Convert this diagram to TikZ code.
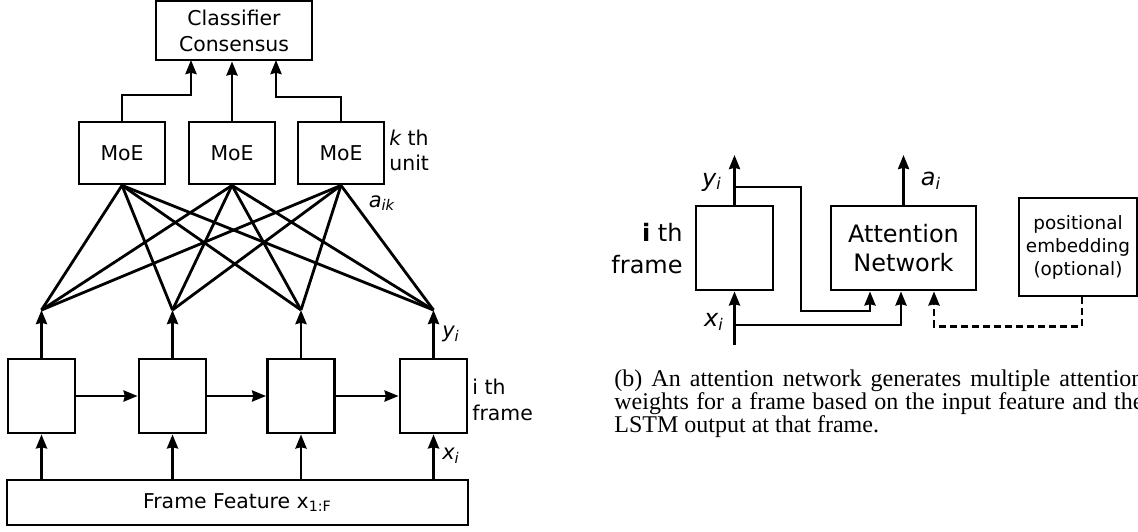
\documentclass[tikz,border=0pt]{standalone}
\usepackage{fontspec}
\setmainfont{Liberation Serif}
\newfontfamily\dv{DejaVu Sans}
\usetikzlibrary{arrows.meta}
\begin{document}
\begin{tikzpicture}[x=0.5pt,y=-0.5pt,
  box/.style={draw, line width=1.4pt, inner sep=0pt, align=center,
    font=\dv\fontsize{10.2}{13}\selectfont},
  conn/.style={line width=1.4pt},
  arr/.style={conn, -{Stealth[length=7pt,width=5.5pt,inset=0.6pt]}},
  lbl/.style={inner sep=0pt, font=\dv\fontsize{10.5}{13}\selectfont},
  rlbl/.style={inner sep=0pt, font=\dv\fontsize{12}{16}\selectfont},
  captxt/.style={anchor=base west, inner sep=0pt, font=\fontsize{12}{12}\selectfont},
]
\useasboundingbox (0,0) rectangle (1138,531);
\clip (0,0) rectangle (1138,531);

% ---------- left panel ----------
\node[box, minimum width=78pt, minimum height=29.6pt] (cls) at (234,30.4) {Classifier\\Consensus};
\node[box, minimum width=43pt, minimum height=31pt] (m1) at (122,153) {MoE};
\node[box, minimum width=43pt, minimum height=31pt] (m2) at (232,153) {MoE};
\node[box, minimum width=43pt, minimum height=31pt] (m3) at (341,153) {MoE};

\foreach \i/\x in {1/41.5,2/172.5,3/301,4/433.5}{
  \node[box, minimum width=33.5pt, minimum height=37pt] (l\i) at (\x,396) {};
  \coordinate (f\i) at (\x,310);
}
\node[box, minimum width=230.5pt, minimum height=22.5pt] (ff) at (237.5,502.5) {Frame Feature x\textsubscript{1:F}};

\coordinate (c1) at (191,60);
\coordinate (c3) at (276,60);
\draw[arr] (m1.north) |- (c1 |- 0,95) -- (c1);
\draw[arr] (m2.north) -- (m2.north |- cls.south);
\draw[arr] (m3.north) |- (c3 |- 0,97) -- (c3);

\foreach \i in {1,2,3,4}{
  \draw[arr] (l\i.north) -- (f\i);
  \draw[arr] (l\i |- ff.north) -- (l\i.south);
  \foreach \m in {1,2,3}{
    \draw[conn] (f\i) -- (m\m.south);
  }
}
\draw[arr] (l1.east) -- (l2.west);
\draw[arr] (l2.east) -- (l3.west);
\draw[arr] (l3.east) -- (l4.west);

\node[lbl, anchor=west, align=left, font=\dv\fontsize{10.2}{12.5}\selectfont] (kth) at (389,150.5) {{\itshape k} th\\unit};
\node[lbl] (aik) at (382,203) {\itshape a\textsubscript{ik}};
\node[lbl] (yl) at (451,334) {\itshape y\textsubscript{i}};
\node[lbl] (xl) at (451,456) {\itshape x\textsubscript{i}};
\node[lbl, anchor=west, align=left, font=\dv\fontsize{10.2}{13}\selectfont] (ithl) at (472,400) {i th\\frame};

% ---------- right panel ----------
\node[box, minimum width=38.5pt, minimum height=42pt] (rl) at (734.5,248) {};
\node[box, minimum width=72.5pt, minimum height=42pt, font=\dv\fontsize{12}{14.5}\selectfont] (att) at (903.5,248) {Attention\\Network};
\node[box, minimum width=59pt, minimum height=49pt, font=\dv\fontsize{9.2}{11.5}\selectfont] (pos) at (1078,247) {positional\\embedding\\(optional)};

\node[rlbl, anchor=east, align=right] (ithr) at (683,249) {{\bfseries i} th\\frame};
\node[rlbl] (yr) at (712,182) {\itshape y\textsubscript{i}};
\node[rlbl] (xr) at (714,322) {\itshape x\textsubscript{i}};
\node[rlbl] (ai) at (931,181) {\itshape a\textsubscript{i}};

\coordinate (ytop) at (734.5,155);
\coordinate (atop) at (903.5,155);
\coordinate (yb) at (734.5,187);
\coordinate (xbot) at (734.5,345);
\coordinate (xb) at (734.5,325);

\draw[arr] (rl.north) -- (ytop);
\draw[arr] (att.north) -- (atop);
\draw[arr] (yb) -| ++(66.5,124) -| ([xshift=-16.75pt]att.south);
\draw[arr] (xbot) -- (rl.south);
\draw[arr] (xb) -| ([xshift=-1.25pt]att.south);
\draw[arr, dash pattern=on 3.5pt off 2pt] ([xshift=2pt]pos.south) -- ++(0,29) -| ([xshift=15.25pt]att.south);

% ---------- caption ----------
\node[captxt] (cap1) at (614,386) {\makebox[264.5pt][s]{(b) An attention network generates multiple attention}};
\node[captxt] (cap2) at (614,409) {\makebox[264.5pt][s]{weights for a frame based on the input feature and the}};
\node[captxt] (cap3) at (614,432) {LSTM output at that frame.};
\end{tikzpicture}
\end{document}
